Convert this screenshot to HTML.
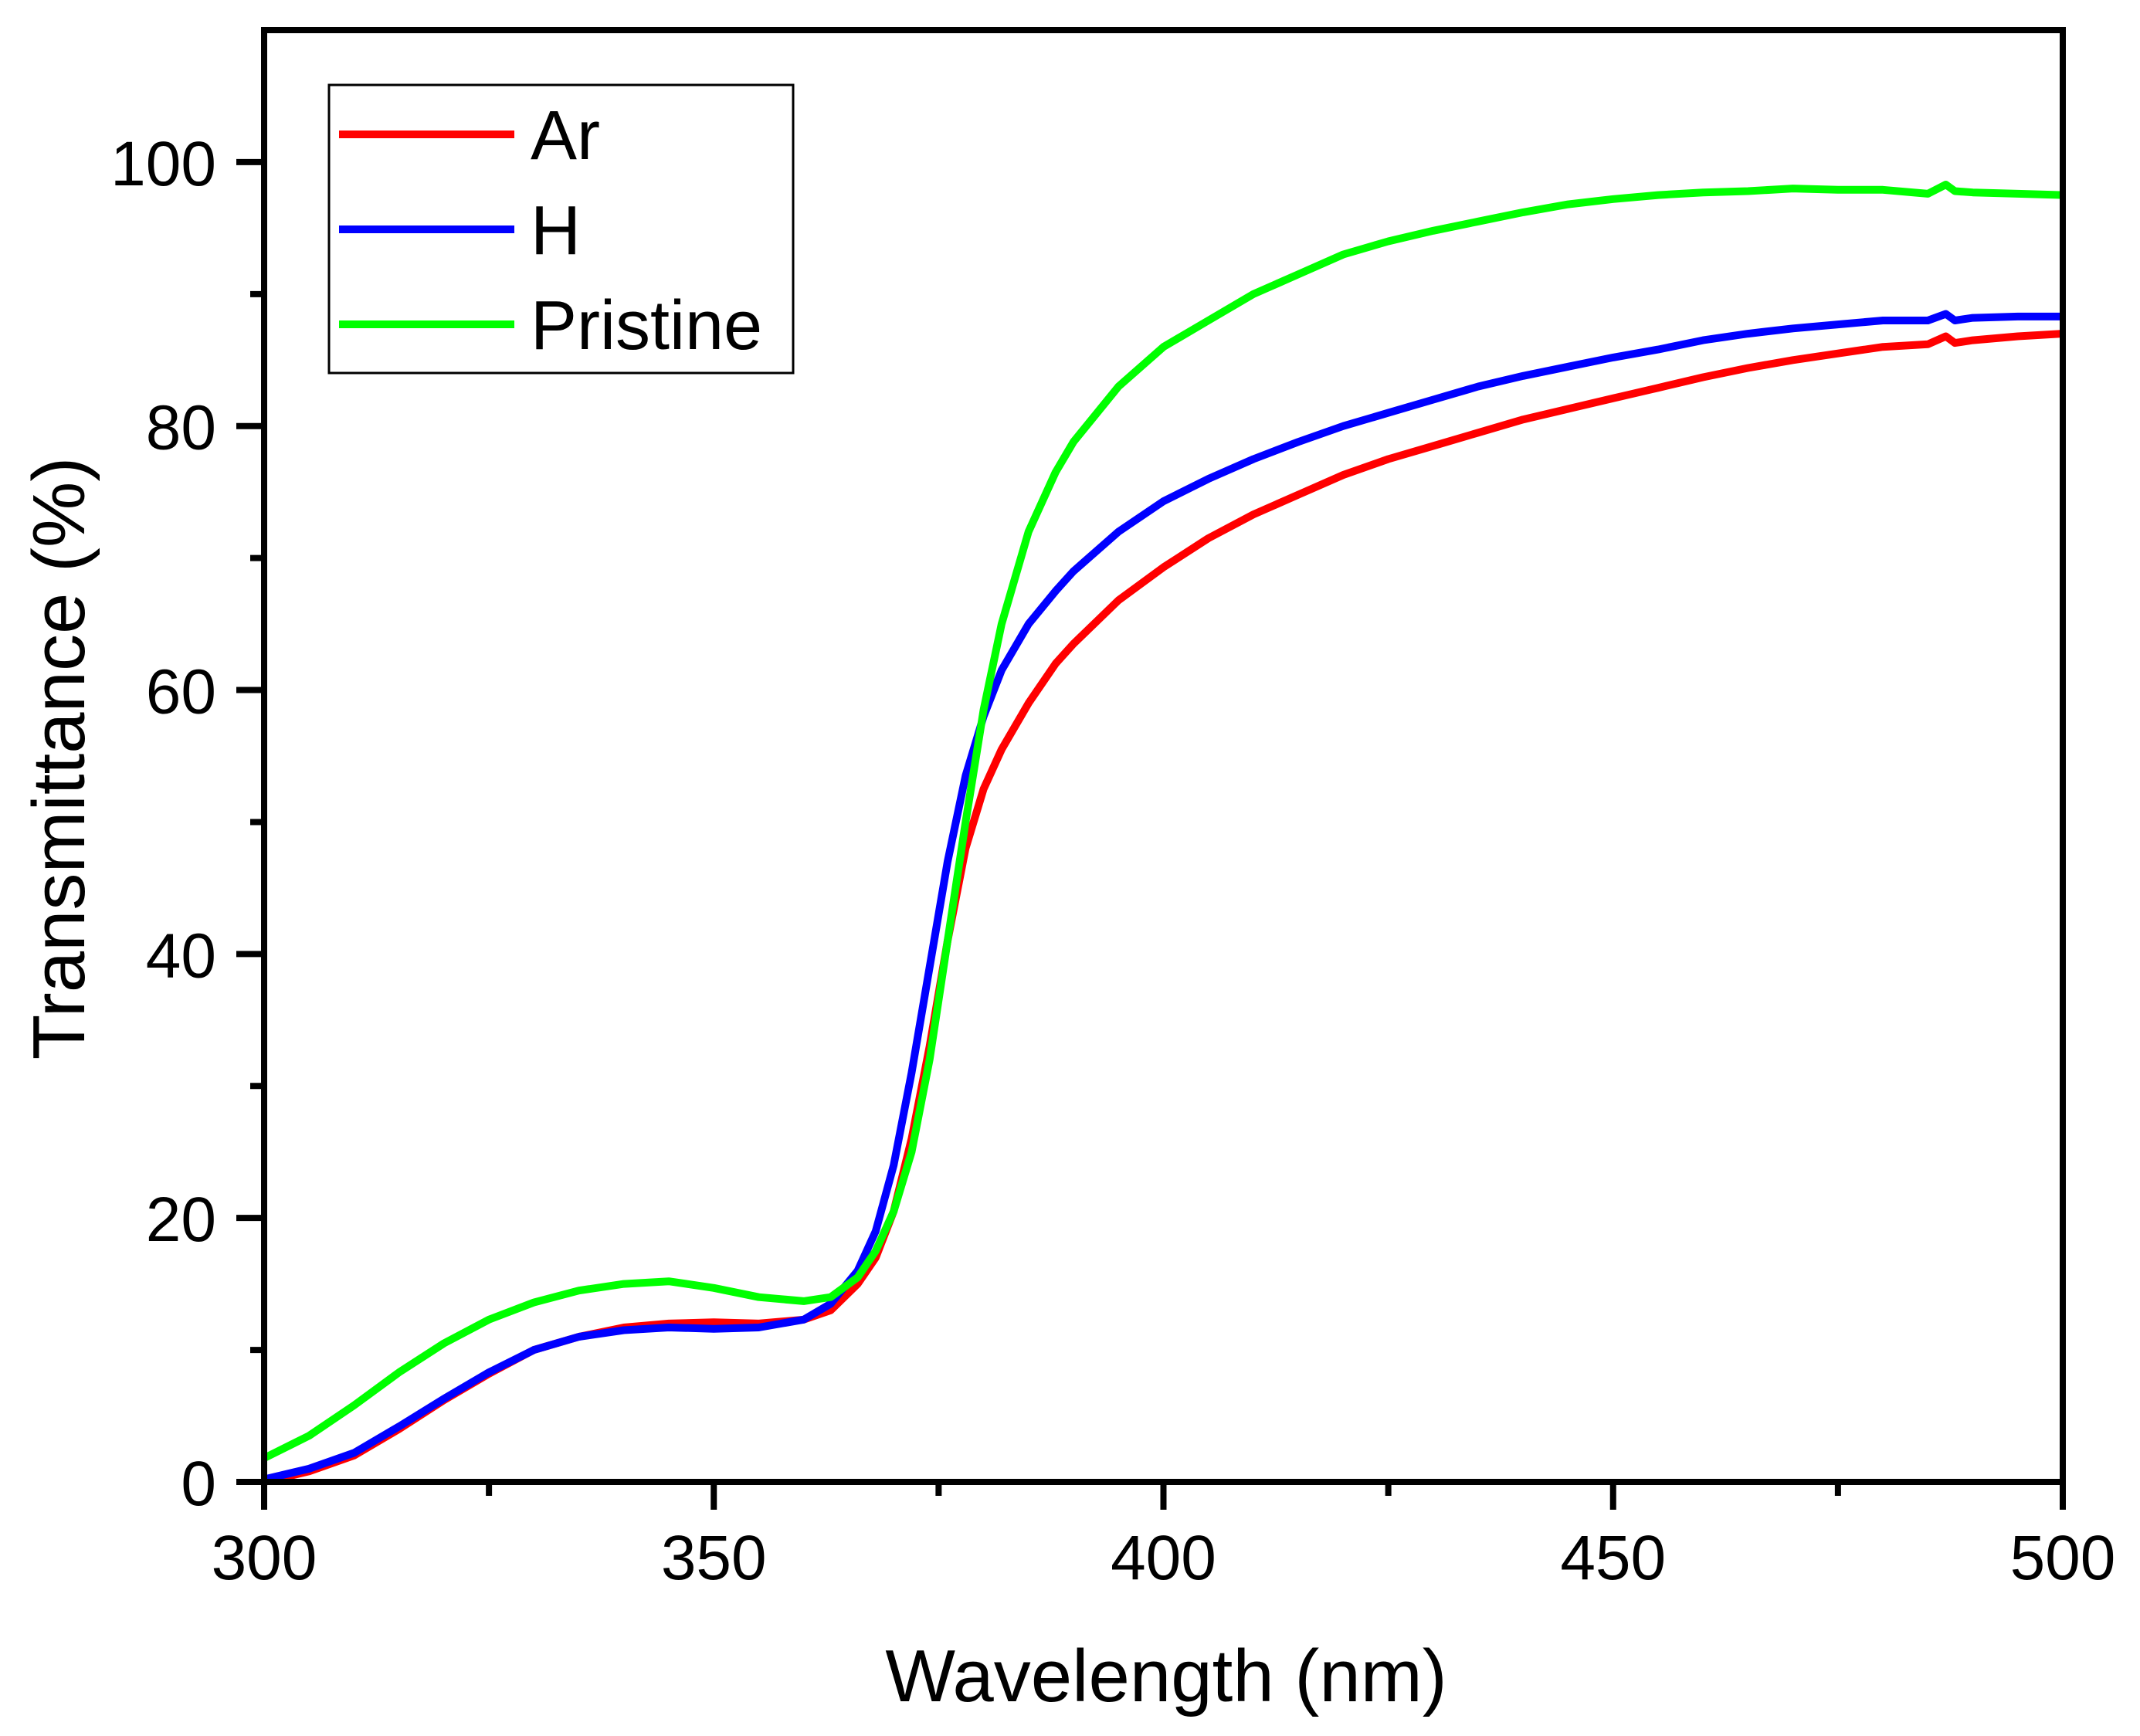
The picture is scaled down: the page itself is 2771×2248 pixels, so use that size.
<!DOCTYPE html>
<html><head><meta charset="utf-8"><style>
html,body{margin:0;padding:0;background:#fff;}
svg{display:block;font-family:"Liberation Sans",Arial,sans-serif;}
</style></head><body>
<svg id="chart" width="2771" height="2248" viewBox="0 0 2771 2248" xmlns="http://www.w3.org/2000/svg">
<g id="marks"></g>
<g id="axes"></g>
</svg>
<script>
const wavelengths = [300,305,310,315,320,325,330,335,340,345,350,355,360,363,366,368,370,372,374,376,378,380,382,385,388,390,395,400,405,410,415,420,425,430,435,440,445,450,455,460,465,470,475,480,485,487,488,490,495,500];
const arValues = [0,0.8,2,4,6.2,8.2,10,11,11.7,12,12.1,12,12.3,13,15,17,20.5,26,33,41,48,52.5,55.5,59,62,63.5,66.8,69.3,71.5,73.3,74.8,76.3,77.5,78.5,79.5,80.5,81.3,82.1,82.9,83.7,84.4,85,85.5,86,86.2,86.8,86.3,86.5,86.8,87];
const hValues = [0.2,1,2.2,4.2,6.3,8.3,10,11,11.5,11.7,11.6,11.7,12.3,13.5,16,19,24,31,39,47,53.5,58,61.5,65,67.5,69,72,74.3,76,77.5,78.8,80,81,82,83,83.8,84.5,85.2,85.8,86.5,87,87.4,87.7,88,88,88.5,88,88.2,88.3,88.3];
const pristineValues = [1.8,3.5,5.8,8.3,10.5,12.3,13.6,14.5,15,15.2,14.7,14,13.7,14,15.5,17.5,20.5,25,32,41,50,58.5,65,72,76.5,78.8,83,86,88,90,91.5,93,94,94.8,95.5,96.2,96.8,97.2,97.5,97.7,97.8,98,97.9,97.9,97.6,98.3,97.8,97.7,97.6,97.5];
const xTicks = [300,350,400,450,500];
const xMinor = [325,375,425,475];
const yTicks = [0,20,40,60,80,100];
const yMinor = [10,30,50,70,90];
const seriesNames = ["Ar","H","Pristine"];
const seriesColors = ["#ff0000","#0000ff","#00ff00"];

const L=342,R=2671,T=39,B=1919;
const xMin=300,xMax=500,yMin=0,yMax=110;
const xs=v=>L+(v-xMin)/(xMax-xMin)*(R-L);
const ys=v=>B-(v-yMin)/(yMax-yMin)*(B-T);
const NS="http://www.w3.org/2000/svg";
const marks=document.getElementById('marks'), axes=document.getElementById('axes');
function mk(tag,attrs,parent){const e=document.createElementNS(NS,tag);for(const k in attrs)e.setAttribute(k,attrs[k]);parent.appendChild(e);return e;}

const allSeries=[arValues,hValues,pristineValues];
allSeries.forEach((vals,i)=>{
  const d=vals.map((v,j)=>(j?'L':'M')+xs(wavelengths[j]).toFixed(1)+' '+ys(v).toFixed(1)).join(' ');
  const p=mk('path',{d:d,fill:'none',stroke:seriesColors[i],'stroke-width':10,'stroke-linejoin':'round'},marks);
  
  
});

const frame=mk('rect',{x:L,y:T,width:R-L,height:B-T,fill:'none',stroke:'#000','stroke-width':8},axes);



xTicks.forEach(t=>{
  const ln=mk('line',{x1:xs(t),x2:xs(t),y1:B,y2:B+36,stroke:'#000','stroke-width':8},axes);
  
  
  const tx=mk('text',{x:xs(t),y:2045,'font-size':82,'text-anchor':'middle'},axes);
  tx.textContent=t;
  
  
});
xMinor.forEach(t=>{
  const ln=mk('line',{x1:xs(t),x2:xs(t),y1:B,y2:B+18,stroke:'#000','stroke-width':8},axes);
  
  
});
yTicks.forEach(t=>{
  const ln=mk('line',{x1:L-36,x2:L,y1:ys(t),y2:ys(t),stroke:'#000','stroke-width':8},axes);
  
  
  const tx=mk('text',{x:280,y:ys(t)+30,'font-size':82,'text-anchor':'end'},axes);
  tx.textContent=t;
  
  
});
yMinor.forEach(t=>{
  const ln=mk('line',{x1:L-18,x2:L,y1:ys(t),y2:ys(t),stroke:'#000','stroke-width':8},axes);
  
  
});

const xt=mk('text',{x:1510,y:2203,'font-size':96,'text-anchor':'middle'},axes);
xt.textContent='Wavelength (nm)';


const yt=mk('text',{x:0,y:0,'font-size':96,'text-anchor':'middle',transform:'translate(109,982) rotate(-90)'},axes);
yt.textContent='Transmittance (%)';



const lg=mk('g',{},axes);


const lbox=mk('rect',{x:426,y:110,width:601,height:373,fill:'#fff',stroke:'#000','stroke-width':3},lg);


seriesNames.forEach((n,i)=>{
  const y=174+i*123;
  const ln=mk('line',{x1:439,x2:666,y1:y,y2:y,stroke:seriesColors[i],'stroke-width':10},lg);
  
  
  const tx=mk('text',{x:687,y:y+32,'font-size':90},lg);
  tx.textContent=n;
  
  
});
</script>
</body></html>
